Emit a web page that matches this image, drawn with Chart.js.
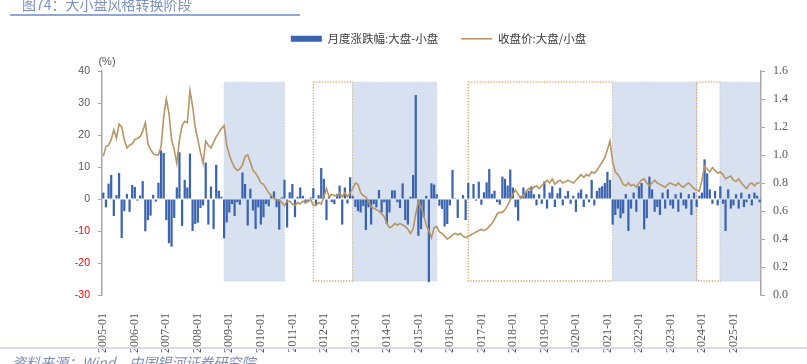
<!DOCTYPE html>
<html>
<head>
<meta charset="utf-8">
<script src="https://cdn.jsdelivr.net/npm/chart.js@4.4.0/dist/chart.umd.min.js"></script>
<style>
  body { margin: 0; background: #fff; width: 807px; height: 364px; overflow: hidden; position: relative; font-family: "Noto Sans CJK SC", sans-serif; }
  #title { position: absolute; left: 22px; top: -6px; font-size: 14px; color: #7d8fbd; white-space: nowrap; z-index: 2; }
  #titleLine { position: absolute; left: 10px; top: 14px; width: 290px; height: 2px; background: #93a7d4; z-index: 2; }
  #wrap { position: absolute; left: 0; top: 0; width: 807px; height: 364px; }
  #footLine { position: absolute; left: 0; top: 347px; width: 807px; height: 2px; background: #d3dcef; z-index: 2; }
  #source { position: absolute; left: 12px; top: 352px; font-size: 14px; font-style: italic; color: #7f8db3; white-space: nowrap; z-index: 2; }
</style>
</head>
<body>
<div id="title">图74：大小盘风格转换阶段</div>
<div id="titleLine"></div>
<div id="wrap"><canvas id="chart"></canvas></div>
<div id="footLine"></div>
<div id="source">资料来源：Wind，中国银河证券研究院</div>
<script>
// 月份 2005-01 ~ 2025-11
const months = [];
for (let y = 2005; y <= 2025; y++) {
    for (let m = 1; m <= 12; m++) {
        if (y === 2025 && m > 11) break;
        months.push(y + '-' + String(m).padStart(2, '0'));
    }
}

// 月度涨跌幅:大盘-小盘 (%)
const spreadMonthly = [
    2, -2.6, 4.8, 7.5, -5.3, 1.2, 8.1, -12.2, -3.8, 1.6, -4, 4.4,          // 2005
    3.8, -0.5, 1.1, 5.6, -10.1, -6.6, -5.2, 1.3, -0.8, 5.1, 15.2, 14.4,    // 2006
    -6.6, -13.8, -14.9, -5.9, 3.6, 14.6, -8.4, 6, 3.6, 14.2, -10, -7.8,    // 2007
    -7.4, -2.8, -2, 11.4, -8, 3.9, -9.4, 10.7, 2.6, 0.7, -12.3, -7.3,      // 2008
    -4.2, -1.6, -5.3, -1, -1.8, 8.3, 4.7, -8.3, 3.2, -3.6, -9.4, -2.6,     // 2009
    -8, -5.7, -1.6, -2.3, 1, 2.4, -2.6, -9.6, 0.5, 6, -8.9, 2.1,           // 2010
    4.7, -5.7, 0.7, 3.6, 1, -1.4, -1, 0.5, 3.4, -1.8, 1.2, 9.7,            // 2011
    6.3, -6.6, 1, -1, -1.6, 1.6, 4.2, -8, 3.6, -1.4, 6.8, 1,               // 2012
    -2.5, -3.8, -4.2, -2.2, -9.7, -2.6, -8, -1.6, -2.6, 2.8, -4.2, -1,     // 2013
    -7.8, -4.2, 2.7, 2.7, -1, -2.8, 4.9, -6.6, -8, 0.7, 7.5, 32.5,         // 2014
    -11.5, -9.4, -5.7, 1, -26, 4.9, 4.5, 1.5, -2.1, -3.1, -8.6, -7.8,      // 2015
    -2, 9.1, 0.3, -5.9, 0.2, 1.2, -6.6, 5, 0.2, 4.7, -0.5, 5.4,            // 2016
    -1.8, 2.1, 5.2, 9.4, 1.6, 2.6, -1, -1.8, 7, 6.3, 4.2, 9.2,             // 2017
    3.6, -2.6, -6.8, 1, 3.6, 2.1, 2.6, 3.9, 1.5, -2, 1.5, -1.5,            // 2018
    5.5, -3, 2, 4, -2.5, 1.8, 3.5, -2, 1, 2.5, -1.5, 1,                    // 2019
    -4, 2, 3, -2.5, 1.5, -1, 6, -2, 2.5, 3.5, 4, 5,                        // 2020
    8.5, 6, -8, -5, -3, -6, -4.5, 1.5, -10, -3, 2, -4,                     // 2021
    4, 5, -9.5, -6, 7, 3, -4, -2.5, -5, 2, -3, 3,                          // 2022
    -2, -3, 1.5, -4, 2, -2, -3, 1.5, -5, 2, -2.5, 1,                       // 2023
    2, 12.4, 8, 3, -1.5, 2.5, -2, 4, -1.5, -10, 3, -3,                     // 2024
    -2, 1.5, -3, 2, -2.5, -1, 1.5, -2, 2, 1, -1                            // 2025
];

// 收盘价:大盘/小盘
const ratioClose = [
    0.99, 1.06, 1.07, 1.11, 1.18, 1.12, 1.22, 1.20, 1.11, 1.05, 1.07, 1.08, // 2005
    1.11, 1.12, 1.13, 1.17, 1.23, 1.08, 1.04, 1.01, 1.00, 1.00, 1.06, 1.27, // 2006
    1.40, 1.30, 1.11, 1.04, 0.94, 1.11, 1.21, 1.24, 1.23, 1.46, 1.35, 1.20, // 2007
    1.11, 1.02, 0.94, 1.10, 1.07, 1.05, 1.09, 1.13, 1.16, 1.19, 1.21, 1.07, // 2008
    1.00, 0.95, 0.91, 0.89, 0.90, 0.93, 0.99, 1.00, 0.95, 0.89, 0.87, 0.84, // 2009
    0.80, 0.79, 0.76, 0.73, 0.71, 0.69, 0.68, 0.68, 0.66, 0.64, 0.67, 0.67, // 2010
    0.65, 0.64, 0.66, 0.65, 0.67, 0.66, 0.67, 0.68, 0.64, 0.64, 0.66, 0.65, // 2011
    0.70, 0.76, 0.70, 0.72, 0.71, 0.71, 0.73, 0.70, 0.73, 0.70, 0.73, 0.76, // 2012
    0.80, 0.79, 0.73, 0.71, 0.70, 0.67, 0.63, 0.62, 0.61, 0.60, 0.58, 0.56, // 2013
    0.51, 0.48, 0.49, 0.51, 0.50, 0.51, 0.50, 0.49, 0.47, 0.44, 0.47, 0.58, // 2014
    0.67, 0.63, 0.57, 0.50, 0.46, 0.41, 0.48, 0.49, 0.45, 0.44, 0.42, 0.40, // 2015
    0.41, 0.43, 0.44, 0.43, 0.44, 0.42, 0.41, 0.42, 0.43, 0.44, 0.45, 0.46, // 2016
    0.47, 0.46, 0.47, 0.49, 0.51, 0.54, 0.58, 0.59, 0.59, 0.61, 0.64, 0.68, // 2017
    0.72, 0.75, 0.72, 0.69, 0.71, 0.74, 0.76, 0.75, 0.77, 0.78, 0.76, 0.78, // 2018
    0.80, 0.82, 0.80, 0.83, 0.79, 0.81, 0.82, 0.80, 0.81, 0.82, 0.81, 0.80, // 2019
    0.82, 0.84, 0.86, 0.84, 0.86, 0.85, 0.88, 0.87, 0.89, 0.92, 0.95, 0.98, // 2020
    1.04, 1.10, 0.95, 0.88, 0.86, 0.83, 0.79, 0.78, 0.80, 0.78, 0.79, 0.77, // 2021
    0.80, 0.82, 0.83, 0.80, 0.78, 0.80, 0.82, 0.80, 0.79, 0.78, 0.77, 0.79, // 2022
    0.80, 0.79, 0.78, 0.80, 0.78, 0.77, 0.79, 0.80, 0.78, 0.76, 0.75, 0.74, // 2023
    0.82, 0.92, 0.90, 0.88, 0.91, 0.89, 0.87, 0.88, 0.86, 0.83, 0.84, 0.85, // 2024
    0.82, 0.81, 0.83, 0.80, 0.78, 0.76, 0.79, 0.80, 0.78, 0.80, 0.80        // 2025
];

// 风格阶段 (阴影: 小盘占优, 虚线框: 大盘占优)
const phaseStart = ['2008-11', '2011-09', '2012-12', '2016-08', '2021-03', '2023-11', '2024-08'];
const phaseEnd   = ['2010-10', '2012-12', '2015-08', '2021-03', '2023-11', '2024-08', '2025-11'];
const phaseKind  = ['小盘', '大盘', '小盘', '大盘', '小盘', '大盘', '小盘'];
const phaseRange = [0.1, 1.52]; // 右轴刻度

// 图例放在绘图区上方居中
const legendSpace = {
    id: 'legendSpace',
    afterLayout(chart) {
        const lg = chart.legend;
        const a = chart.chartArea;
        lg.left = a.left + 14;
        lg.right = a.right;
        lg.top = 10;
    }
};

const phaseBoxes = {
    id: 'phaseBoxes',
    beforeDatasetsDraw(chart) {
        const ctx = chart.ctx;
        const xs = chart.scales.x, ys = chart.scales.y2;
        const yTop = ys.getPixelForValue(phaseRange[1]);
        const yBot = ys.getPixelForValue(phaseRange[0]);
        ctx.save();
        phaseStart.forEach((s, i) => {
            const x1 = xs.getPixelForValue(months.indexOf(s));
            const x2 = xs.getPixelForValue(months.indexOf(phaseEnd[i]));
            if (phaseKind[i] === '小盘') {
                ctx.fillStyle = '#d7e1f0';
                ctx.fillRect(x1, yTop, x2 - x1, yBot - yTop);
                ctx.strokeStyle = '#c4d1e8';
                ctx.lineWidth = 1;
            } else {
                ctx.strokeStyle = '#d6a46b';
                ctx.lineWidth = 1.3;
            }
            ctx.setLineDash([1.3, 1.5]);
            ctx.strokeRect(x1, yTop, x2 - x1, yBot - yTop);
        });
        ctx.restore();
    },
    afterDraw(chart) {
        // 左轴单位
        const ctx = chart.ctx;
        ctx.save();
        ctx.font = '11px "Liberation Sans"';
        ctx.fillStyle = '#595959';
        ctx.textAlign = 'center';
        ctx.textBaseline = 'middle';
        ctx.fillText('(%)', chart.chartArea.left + 5, 62);
        ctx.restore();
    }
};

const axisGray = '#a6a6a6';

new Chart(document.getElementById('chart'), {
    type: 'bar',
    data: {
        labels: months,
        datasets: [{
            label: '月度涨跌幅:大盘-小盘',
            data: spreadMonthly,
            backgroundColor: '#3a63b0',
            borderWidth: 0,
            barPercentage: 0.85,
            categoryPercentage: 1,
            yAxisID: 'y',
            order: 1
        }, {
            type: 'line',
            label: '收盘价:大盘/小盘',
            data: ratioClose,
            borderColor: '#b89461',
            backgroundColor: '#b89461',
            borderWidth: 1.6,
            pointRadius: 0,
            tension: 0,
            yAxisID: 'y2',
            order: 0
        }]
    },
    options: {
        responsive: true,
        maintainAspectRatio: false,
        animation: false,
        layout: { padding: { top: 26.5, left: 0, right: 0, bottom: 0 } },
        plugins: {
            tooltip: { enabled: false },
            legend: {
                position: 'top',
                labels: {
                    usePointStyle: true,
                    pointStyleWidth: 31,
                    boxHeight: 6,
                    padding: 23,
                    color: '#404040',
                    font: { family: '"Noto Sans CJK SC"', size: 11.5 },
                    sort: (a, b) => a.datasetIndex - b.datasetIndex,
                    generateLabels(chart) {
                        const items = Chart.defaults.plugins.legend.labels.generateLabels(chart);
                        items.forEach(it => {
                            it.pointStyle = it.datasetIndex === 0 ? 'rect' : 'line';
                            it.lineWidth = it.datasetIndex === 0 ? 0 : 1.6;
                        });
                        return items;
                    }
                }
            }
        },
        scales: {
            x: {
                offset: true,
                grid: { display: false },
                border: { display: false },
                ticks: {
                    autoSkip: false,
                    minRotation: 90,
                    maxRotation: 90,
                    padding: 10,
                    color: '#595959',
                    font: { family: '"Liberation Serif"', size: 12 },
                    callback: function (v) {
                        const l = this.getLabelForValue(v);
                        return l.endsWith('-01') ? l : null;
                    }
                },
                afterFit: s => { s.height = 69; }
            },
            y: {
                position: 'left',
                min: -30,
                max: 40,
                ticks: {
                    stepSize: 10,
                    padding: 8,
                    font: { family: '"Liberation Sans"', size: 10.5 },
                    color: c => (c.tick && c.tick.value < 0) ? '#ff0000' : '#595959'
                },
                grid: { drawOnChartArea: false, tickLength: 4, color: axisGray },
                border: { color: axisGray, width: 1.5 },
                afterFit: s => { s.width = 102; }
            },
            y2: {
                position: 'right',
                min: 0,
                max: 1.6,
                ticks: {
                    stepSize: 0.2,
                    padding: 8,
                    color: '#595959',
                    font: { family: '"Liberation Serif"', size: 12 },
                    callback: v => v.toFixed(1)
                },
                grid: { drawOnChartArea: false, tickLength: 4, color: axisGray },
                border: { color: axisGray, width: 1.5 },
                afterFit: s => { s.width = 46; }
            }
        }
    },
    plugins: [legendSpace, phaseBoxes]
});
</script>
</body>
</html>
